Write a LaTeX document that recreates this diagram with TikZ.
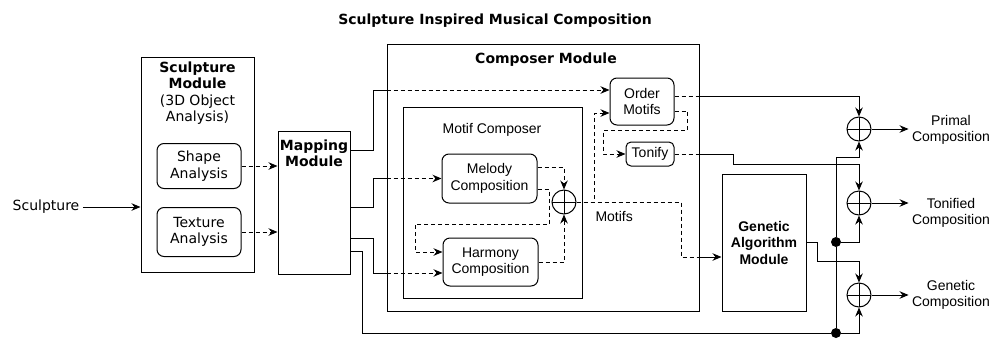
\documentclass[tikz,border=0pt]{standalone}
\usepackage{fontspec}
\setmainfont{Liberation Sans}
\newfontfamily\vfont{DejaVu Sans}
\usetikzlibrary{arrows.meta, positioning, calc}

\tikzset{
  box/.style={draw, line width=1pt, align=center, inner sep=0pt},
  rbox/.style={box, rounded corners=7pt},
  sumnode/.style={circle, draw, line width=1pt, minimum size=24pt, inner sep=0pt,
    path picture={\draw[line width=0.9pt] (path picture bounding box.north) -- (path picture bounding box.south)
      (path picture bounding box.west) -- (path picture bounding box.east);}},
  joint/.style={circle, fill, inner sep=0pt, minimum size=10pt},
  wire/.style={line width=1pt},
  flow/.style={wire, -{Stealth[length=9pt,width=7.5pt]}},
  dwire/.style={wire, dash pattern=on 4pt off 3pt},
  dflow/.style={flow, dash pattern=on 4pt off 3pt},
  txt/.style={align=center},
}

\begin{document}
\begin{tikzpicture}[x=1pt, y=-1pt, font=\fontsize{14}{16.5}\selectfont]
  \useasboundingbox (0,0) rectangle (997,338);

  \node[txt, font=\fontsize{14}{16.5}\selectfont\vfont\bfseries] (title) at (495,21) {Sculpture Inspired Musical Composition};

  % sculpture module
  \node (sculpin) at (46,207) {\vfont Sculpture};
  \node[box, minimum width=113pt, minimum height=215pt] (sculpmod) at (197.5,164.5) {};
  \node[txt, font=\fontsize{14}{16.5}\selectfont\vfont] (sculptitle) at (197.5,93) {\textbf{Sculpture}\\\textbf{Module}\\(3D Object\\Analysis)};
  \node[rbox, minimum width=84pt, minimum height=45pt, font=\fontsize{14}{16.5}\selectfont\vfont] (shape) at (199,166) {Shape\\Analysis};
  \node[rbox, minimum width=84pt, minimum height=49pt, font=\fontsize{14}{16.5}\selectfont\vfont] (texture) at (199,232) {Texture\\Analysis};

  % mapping module
  \node[box, minimum width=72pt, minimum height=143pt] (mapping) at (314,202.5) {};
  \node[txt, font=\fontsize{14}{16.5}\selectfont\vfont\bfseries] (maptitle) at (314,153.5) {Mapping\\Module};

  % composer module
  \node[box, minimum width=312pt, minimum height=267pt] (composer) at (543,177.5) {};
  \node[font=\fontsize{14}{16.5}\selectfont\vfont\bfseries] (comptitle) at (546,60) {Composer Module};
  \node[box, minimum width=179pt, minimum height=191pt] (motifc) at (492.5,202.5) {};
  \node (motiftitle) at (492,130) {Motif Composer};
  \node[rbox, minimum width=95pt, minimum height=49pt] (melody) at (489.5,178.5) {Melody\\Composition};
  \node[rbox, minimum width=95pt, minimum height=48pt] (harmony) at (490.5,262) {Harmony\\Composition};
  \node[sumnode] (sumM) at (564,202) {};
  \node[anchor=west] (motiflbl) at (592,216) {Motifs};
  \node[rbox, minimum width=64pt, minimum height=47pt] (order) at (642,101.5) {Order\\Motifs};
  \node[rbox, minimum width=48pt, minimum height=24pt, rounded corners=5pt] (tonify) at (650,154) {Tonify};

  % genetic algorithm
  \node[box, minimum width=84pt, minimum height=137pt, font=\fontsize{14}{16.5}\selectfont\bfseries] (genetic) at (764,242.5) {Genetic\\Algorithm\\Module};

  % output sums
  \node[sumnode] (sumP) at (859,129) {};
  \node[sumnode] (sumT) at (859,203) {};
  \node[sumnode] (sumG) at (859,295) {};
  \node[joint] (jnA) at (836,242) {};
  \node[joint] (jnB) at (836,333) {};
  \node[txt] (primal) at (951,130) {Primal\\Composition};
  \node[txt] (tonified) at (951,213) {Tonified\\Composition};
  \node[txt] (genout) at (951,295) {Genetic\\Composition};

  % inputs
  \draw[flow] (sculpin.east) -- (sculpin.east -| sculpmod.west);
  \draw[dflow] (shape.east) -- (shape.east -| mapping.west);
  \draw[dflow] (texture.east) -- (texture.east -| mapping.west);

  % mapping to composer
  \draw[wire] ($(mapping.north east)+(0,20)$) -| (373,90) -- (composer.west |- 0,90);
  \draw[dflow] (composer.west |- 0,90) -- (order.west |- 0,90);
  \draw[wire] ($(mapping.north east)+(0,77)$) -| (373,178.5) -- (composer.west |- melody.west);
  \draw[dflow] (composer.west |- melody.west) -- (melody.west);
  \draw[wire] ($(mapping.north east)+(0,108)$) -| (373,273) -- (composer.west |- 0,273);
  \draw[dflow] (composer.west |- 0,273) -- (harmony.west |- 0,273);
  \draw[wire] ($(mapping.north east)+(0,121)$) -| (362,333) -- (jnB);

  % motif composer
  \draw[dflow] ($(melody.east)+(0,-11)$) -| (sumM.north);
  \draw[dflow] ($(melody.east)+(0,11)$) -- ++(12,0) |- (415,224) |- ($(harmony.west)+(0,-10)$);
  \draw[dflow] (harmony.east) -| (sumM.south);

  % motifs onwards
  \draw[dflow] (sumM.east) -| (594,113) -- (order.west |- 0,113);
  \draw[dwire] (sumM.east) -| (681,257) -- (composer.east |- 0,257);
  \draw[flow] (composer.east |- 0,257) -- (genetic.west |- 0,257);
  \draw[dflow] ($(order.east)+(0,9.5)$) -- ++(13,0) |- (603,130) |- (tonify.west);
  \draw[dwire] ($(order.east)+(0,-5.5)$) -- (composer.east |- 0,96);
  \draw[flow] (composer.east |- 0,96) -| (sumP.north);
  \draw[dwire] (tonify.east) -- (composer.east |- tonify.east);
  \draw[flow] (composer.east |- tonify.east) -| (733,164) -| (sumT.north);
  \draw[flow] (genetic.east) -| (817,261) -| (sumG.north);

  % primal bus
  \draw[wire] (jnB) -- (jnA);
  \draw[flow] (jnA) |- ($(sumP.south)+(0,16)$) -- (sumP.south);
  \draw[flow] (jnA) -| (sumT.south);
  \draw[flow] (jnB) -| (sumG.south);

  % outputs
  \draw[flow] (sumP.east) -- (primal.west |- sumP.east);
  \draw[flow] (sumT.east) -- (tonified.west |- sumT.east);
  \draw[flow] (sumG.east) -- (genout.west |- sumG.east);
\end{tikzpicture}
\end{document}
